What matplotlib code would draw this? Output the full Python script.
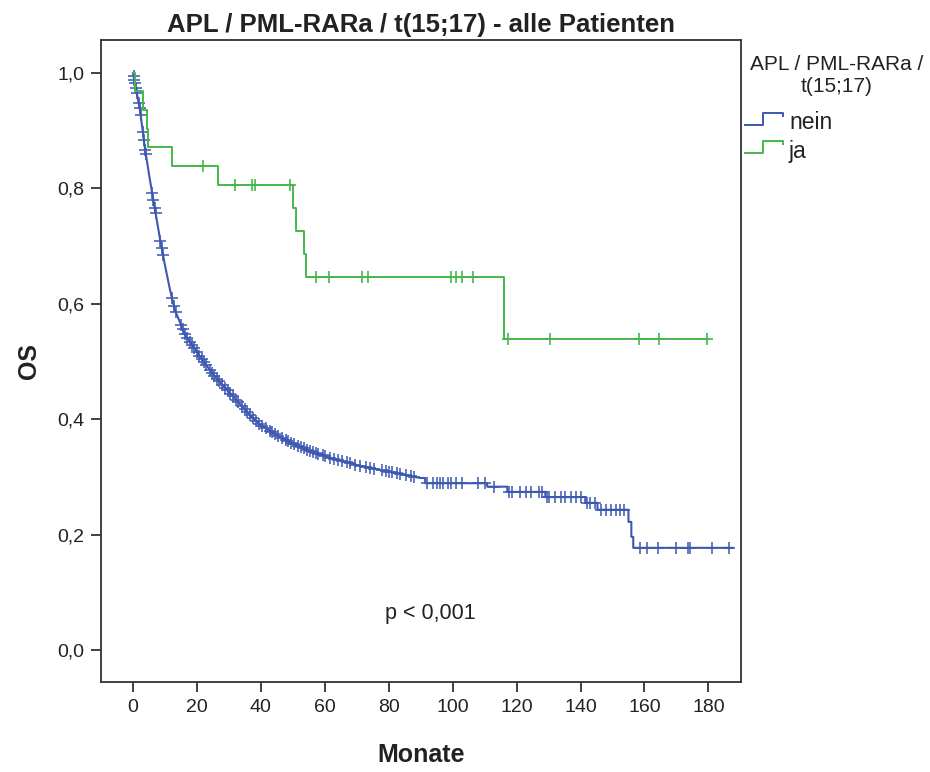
import numpy as np
import matplotlib.pyplot as plt
from matplotlib.lines import Line2D

plt.rcParams['font.family'] = ['Liberation Sans', 'DejaVu Sans']

# Kaplan-Meier Kurve "nein"
nein_t = [0, 2.2, 3.8, 5.3, 6.9, 8.5, 10.0, 11.6, 13.1, 14.7, 16.3, 18.5, 21.0, 24.1,
          27.2, 30.4, 33.5, 36.6, 39.8, 42.9, 46.0, 49.2, 52.3, 57.0, 61.7, 66.4, 71.1,
          77.3, 83.6, 89.9, 91.4, 91.4, 110.8, 110.8, 117.1, 117.1, 129.0, 129.0, 141.5,
          141.5, 145.3, 145.3, 155.0, 155.0, 155.9, 155.9, 156.5, 156.5, 187.5]
nein_s = [1.0, 0.936, 0.867, 0.815, 0.763, 0.711, 0.667, 0.624, 0.589, 0.568, 0.546, 0.529,
          0.508, 0.485, 0.464, 0.445, 0.426, 0.407, 0.390, 0.380, 0.369, 0.360, 0.352, 0.341,
          0.333, 0.326, 0.319, 0.312, 0.305, 0.298, 0.298, 0.289, 0.289, 0.283, 0.283, 0.274,
          0.274, 0.265, 0.265, 0.255, 0.255, 0.243, 0.243, 0.222, 0.222, 0.196, 0.196, 0.177,
          0.177]
nein_zensiert = [0.2, 0.4, 0.6, 0.9, 1.2, 1.8, 2.1, 2.4, 3.1, 3.4, 3.8, 4.0, 6.0, 6.4, 6.8,
                 7.1, 8.6, 9.0, 9.4, 12.2, 12.8, 13.4, 15.0, 15.6, 16.2, 17.0, 17.8, 18.5,
                 19.2, 20.0, 20.8, 21.5, 22.3, 23.0, 24.0, 24.8, 25.5, 26.3, 27.0, 28.0, 28.9,
                 29.6, 30.5, 31.3, 32.2, 33.0, 34.0, 35.0, 35.8, 36.7, 37.5, 38.5, 39.5, 40.5,
                 41.5, 42.8, 43.6, 44.5, 45.5, 46.5, 47.8, 48.6, 49.5, 50.5, 51.5, 52.6, 53.5,
                 54.4, 55.5, 56.4, 57.2, 58.0, 59.3, 60.1, 61.5, 62.8, 64.0, 65.5, 67.0, 68.0,
                 69.5, 71.0, 73.0, 74.0, 75.5, 78.0, 79.0, 80.0, 81.0, 82.5, 83.5, 85.5, 87.0,
                 88.0, 92.0, 94.0, 95.0, 96.0, 97.0, 98.5, 99.5, 101.0, 103.0, 108.0, 110.0,
                 113.0, 117.5, 118.5, 121.0, 123.0, 124.5, 127.0, 128.0, 129.5, 130.0, 132.0,
                 134.0, 135.0, 137.0, 138.5, 140.0, 142.0, 143.0, 144.5, 146.5, 148.0, 149.5,
                 151.0, 152.5, 153.5, 158.7, 160.9, 164.1, 170.0, 173.5, 174.1, 181.0, 186.6]

# Kaplan-Meier Kurve "ja"
ja_t = [0, 0.6, 3.1, 4.4, 4.6, 12.2, 26.6, 50.1, 51.0, 53.5, 54.2, 116.2, 180.0]
ja_s = [1.0, 0.968, 0.935, 0.903, 0.871, 0.839, 0.806, 0.766, 0.726, 0.686, 0.646, 0.539, 0.539]
ja_zensiert = [21.9, 31.9, 37.3, 38.2, 49.2, 57.3, 61.4, 71.7, 73.6, 99.6, 101.1, 103.0,
               106.4, 117.4, 130.6, 158.4, 164.7, 179.7]

blau = '#3d58b0'
gruen = '#45b84c'
textfarbe = '#222222'

fig = plt.figure(figsize=(9.3, 7.72), dpi=100)
ax = fig.add_axes([0.1086, 0.1166, 0.6885, 0.8316])

# Kurven
ax.plot(nein_t, nein_s, color=blau, lw=1.5)
nein_y = np.interp(nein_zensiert, nein_t, nein_s)
ax.plot(nein_zensiert, nein_y, ls='none', marker='+', ms=9, mew=1.3, color=blau, alpha=0.85)

ax.plot(ja_t, ja_s, color=gruen, lw=1.4, drawstyle='steps-post')
idx = np.searchsorted(ja_t, ja_zensiert, side='right') - 1
ja_y = np.array(ja_s)[idx]
ax.plot(ja_zensiert, ja_y, ls='none', marker='+', ms=9, mew=1.2, color=gruen)

ax.text(93, 0.063, 'p < 0,001', ha='center', va='center', fontsize=15.5, color=textfarbe)

# Achsen
ax.set_xlim(-10, 190.3)
ax.set_ylim(-0.0555, 1.0572)
xt = list(range(0, 181, 20))
ax.set_xticks(xt)
ax.set_xticklabels([str(v) for v in xt])
yt = [0.0, 0.2, 0.4, 0.6, 0.8, 1.0]
ax.set_yticks(yt)
ax.set_yticklabels([f'{v:.1f}'.replace('.', ',') for v in yt])
ax.tick_params(direction='out', length=7, width=1.3, colors='#333333',
               labelsize=14, labelcolor=textfarbe, pad=5)
for s in ax.spines.values():
    s.set_linewidth(1.3)
    s.set_color('#333333')

ax.set_xlabel('Monate', fontsize=18, fontweight='bold', labelpad=20, color=textfarbe)
ax.set_ylabel('OS', fontsize=18, fontweight='bold', labelpad=12, color=textfarbe)
ax.set_title('APL / PML-RARa / t(15;17) - alle Patienten', fontsize=18.5,
             fontweight='bold', pad=6, color=textfarbe)

# Legende (rechts neben dem Diagramm)
W, H = 930, 772
fig.text(837 / W, 1 - 64 / H, 'APL / PML-RARa /', ha='center', va='center',
         fontsize=15, color=textfarbe)
fig.text(837 / W, 1 - 86 / H, 't(15;17)', ha='center', va='center',
         fontsize=15, color=textfarbe)
for farbe, name, yb, basis in [(blau, 'nein', 125, 129), (gruen, 'ja', 153, 158)]:
    xs = np.array([745, 763, 763, 783, 783]) / W
    ys = 1 - np.array([yb, yb, yb - 12, yb - 12, yb - 9]) / H
    fig.add_artist(Line2D(xs, ys, color=farbe, lw=1.4, transform=fig.transFigure))
    fig.text(789 / W, 1 - basis / H, name, ha='left', va='baseline',
             fontsize=16.5, color=textfarbe)

fig.savefig('out.png', dpi=100)
